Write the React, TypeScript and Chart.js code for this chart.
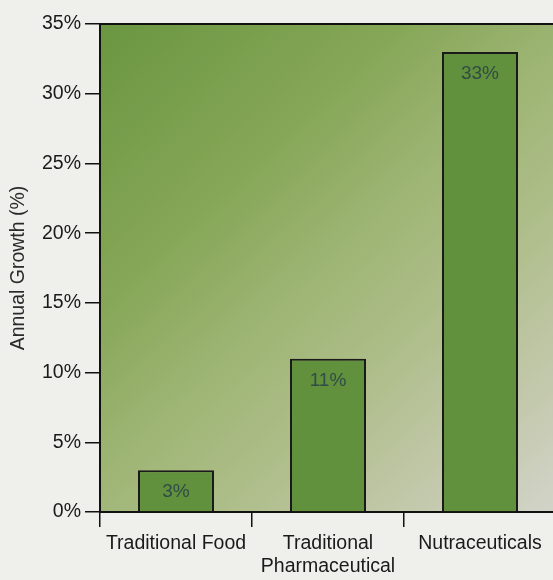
import React, { useEffect, useRef } from "react";
import { Chart, registerables } from "chart.js";

Chart.register(...registerables);

const categories: (string | string[])[] = [
  "Traditional Food",
  ["Traditional", "Pharmaceutical"],
  "Nutraceuticals",
];
const growthValues: number[] = [3, 11, 33];
const valueLabels: string[] = ["3%", "11%", "33%"];
const yTickValues: number[] = [0, 5, 10, 15, 20, 25, 30, 35];

const FONT = "'Liberation Sans', Arial, Helvetica, sans-serif";

const plotBackground = {
  id: "plotBackground",
  beforeDraw(chart: any) {
    const { ctx, chartArea } = chart;
    const { left, top, right, bottom } = chartArea;
    const g = ctx.createLinearGradient(left, top, right, bottom);
    g.addColorStop(0, "#6a9641");
    g.addColorStop(0.3, "#85a656");
    g.addColorStop(0.48, "#9cb472");
    g.addColorStop(0.65, "#adbd88");
    g.addColorStop(0.84, "#c2c8aa");
    g.addColorStop(1, "#d3d4ca");
    ctx.save();
    ctx.fillStyle = g;
    ctx.fillRect(left, top, right - left, bottom - top);
    ctx.restore();
  },
  afterDraw(chart: any) {
    const { ctx, chartArea } = chart;
    ctx.save();
    ctx.strokeStyle = "#111";
    ctx.lineWidth = 2;
    ctx.beginPath();
    ctx.moveTo(chartArea.left - 1, chartArea.top);
    ctx.lineTo(chartArea.right, chartArea.top);
    ctx.stroke();
    ctx.restore();
  },
};

const barLabels = {
  id: "barLabels",
  afterDatasetsDraw(chart: any) {
    const { ctx } = chart;
    const meta = chart.getDatasetMeta(0);
    ctx.save();
    ctx.font = `19px ${FONT}`;
    ctx.fillStyle = "#2f4c46";
    ctx.textAlign = "center";
    ctx.textBaseline = "middle";
    meta.data.forEach((el: any, i: number) => {
      ctx.fillText(valueLabels[i], el.x, el.y + 22);
    });
    ctx.restore();
  },
};

export default function App() {
  const canvasRef = useRef<HTMLCanvasElement | null>(null);

  useEffect(() => {
    if (!canvasRef.current) return;
    const chart = new Chart(canvasRef.current, {
      type: "bar",
      data: {
        labels: categories,
        datasets: [
          {
            data: growthValues,
            backgroundColor: "#62913d",
            borderColor: "#1a1a1a",
            borderWidth: 2,
            barPercentage: 0.5,
            categoryPercentage: 1,
          },
        ],
      },
      options: {
        animation: false,
        responsive: false,
        layout: { padding: { top: 24, right: 4, left: 0, bottom: 0 } },
        plugins: {
          legend: { display: false },
          tooltip: { enabled: false },
        },
        scales: {
          x: {
            offset: true,
            grid: {
              offset: true,
              drawOnChartArea: false,
              drawTicks: true,
              tickLength: 15,
              color: "#111",
              lineWidth: 1.5,
            },
            border: { display: true, color: "#111", width: 2 },
            ticks: {
              color: "#1a1a1a",
              font: { family: FONT, size: 19.5, lineHeight: 1.2 },
              padding: 5,
              maxRotation: 0,
              autoSkip: false,
            },
            afterFit: (scale: any) => {
              scale.height = 68;
            },
          },
          y: {
            min: 0,
            max: 35,
            afterBuildTicks: (scale: any) => {
              scale.ticks = yTickValues.map((v) => ({ value: v }));
            },
            grid: {
              drawOnChartArea: false,
              drawTicks: true,
              tickLength: 15,
              color: "#111",
              lineWidth: 1.5,
            },
            border: { display: true, color: "#111", width: 2 },
            ticks: {
              color: "#1a1a1a",
              font: { family: FONT, size: 19.5 },
              padding: 4,
              callback: (v: any) => `${v}%`,
            },
            title: {
              display: true,
              text: "Annual Growth (%)",
              color: "#2a2a2a",
              font: { family: FONT, size: 19.5 },
              padding: { top: 7, bottom: 0 },
            },
            afterFit: (scale: any) => {
              scale.width = 100;
            },
          },
        },
      },
      plugins: [plotBackground, barLabels],
    });
    return () => chart.destroy();
  }, []);

  return (
    <div
      style={{
        position: "fixed",
        left: 0,
        top: 0,
        width: 553,
        height: 580,
        overflow: "hidden",
        background: "#efefec",
      }}
    >
      <canvas
        ref={canvasRef}
        width={560}
        height={580}
        style={{ display: "block", width: 560, height: 580 }}
      />
    </div>
  );
}
